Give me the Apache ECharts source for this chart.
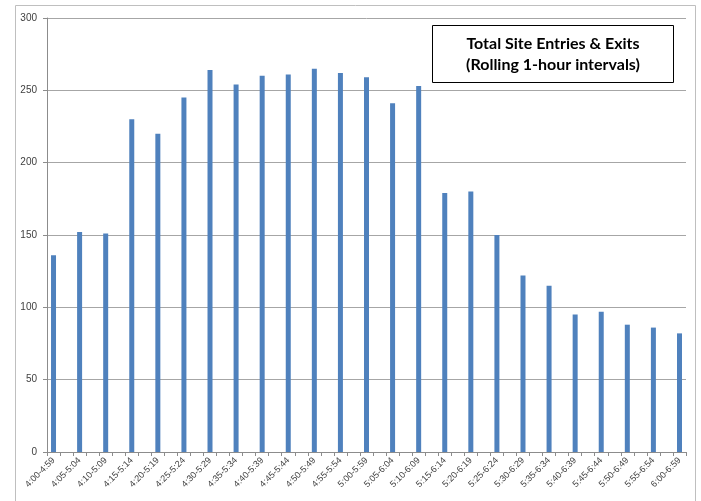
<!DOCTYPE html>
<html>
<head>
<meta charset="utf-8">
<script src="https://cdn.jsdelivr.net/npm/echarts@6/dist/echarts.min.js"></script>
<style>
  html, body { margin: 0; padding: 0; background: #fff; }
  #chart { width: 701px; height: 501px; }
</style>
</head>
<body>
<div id="chart"></div>
<script>
// Rolling one-hour windows
const intervals = [
  '4:00-4:59', '4:05-5:04', '4:10-5:09', '4:15-5:14', '4:20-5:19',
  '4:25-5:24', '4:30-5:29', '4:35-5:34', '4:40-5:39', '4:45-5:44',
  '4:50-5:49', '4:55-5:54', '5:00-5:59', '5:05-6:04', '5:10-6:09',
  '5:15-6:14', '5:20-6:19', '5:25-6:24', '5:30-6:29', '5:35-6:34',
  '5:40-6:39', '5:45-6:44', '5:50-6:49', '5:55-6:54', '6:00-6:59'
];

// Entries plus exits counted in each window
const entriesExits = [
  136, 152, 151, 230, 220,
  245, 264, 254, 260, 261,
  265, 262, 259, 241, 253,
  179, 180, 150, 122, 115,
  95, 97, 88, 86, 82
];

const yTicks = [0, 50, 100, 150, 200, 250, 300];

// Windows sit on every other slot of the axis, with an empty slot between neighbours
const slotLabels = intervals.flatMap((c, i) => i < intervals.length - 1 ? [c, ''] : [c]);
const slotValues = entriesExits.flatMap((v, i) => i < entriesExits.length - 1 ? [v, null] : [v]);

const chart = echarts.init(document.getElementById('chart'), null, { renderer: 'canvas' });

chart.setOption({
  animation: false,
  backgroundColor: '#ffffff',
  grid: { left: 47, right: 15, top: 18, bottom: 49 },
  xAxis: {
    type: 'category',
    data: slotLabels,
    boundaryGap: true,
    axisLine: { lineStyle: { color: '#8c8c8c', width: 1 } },
    axisTick: { show: true, interval: 0, length: 4, lineStyle: { color: '#8c8c8c' } },
    axisLabel: {
      interval: 0,
      rotate: 45,
      margin: 7,
      fontSize: 9,
      color: '#404040',
      fontFamily: 'Liberation Sans, Arial, sans-serif'
    },
    splitLine: { show: false }
  },
  yAxis: {
    type: 'value',
    min: yTicks[0],
    max: yTicks[yTicks.length - 1],
    interval: yTicks[1] - yTicks[0],
    axisLine: { show: true, lineStyle: { color: '#8c8c8c', width: 1 } },
    axisTick: { show: true, length: 4, lineStyle: { color: '#8c8c8c' } },
    axisLabel: {
      margin: 10,
      fontSize: 10,
      color: '#404040',
      fontFamily: 'Liberation Sans, Arial, sans-serif'
    },
    splitLine: { show: true, lineStyle: { color: '#a6a6a6', width: 1 } }
  },
  series: [{
    type: 'bar',
    data: slotValues,
    barWidth: 5,
    itemStyle: { color: '#4f81bd' }
  }],
  graphic: [
    {
      type: 'rect',
      z: -1,
      shape: { x: 15.5, y: 5.5, width: 680, height: 510 },
      style: { fill: 'none', stroke: '#bfbfbf', lineWidth: 1 }
    },
    {
      type: 'rect',
      shape: { x: 432.5, y: 25.5, width: 241, height: 57 },
      style: { fill: '#ffffff', stroke: '#000000', lineWidth: 1 }
    },
    {
      type: 'text',
      x: 553,
      y: 44,
      style: {
        text: 'Total Site Entries & Exits',
        align: 'center',
        verticalAlign: 'middle',
        fontSize: 16,
        fontWeight: 'bold',
        fontFamily: 'Lato, Liberation Sans, sans-serif',
        fill: '#000000'
      }
    },
    {
      type: 'text',
      x: 553,
      y: 65,
      style: {
        text: '(Rolling 1-hour intervals)',
        align: 'center',
        verticalAlign: 'middle',
        fontSize: 16,
        fontWeight: 'bold',
        fontFamily: 'Lato, Liberation Sans, sans-serif',
        fill: '#000000'
      }
    }
  ]
});
</script>
</body>
</html>
